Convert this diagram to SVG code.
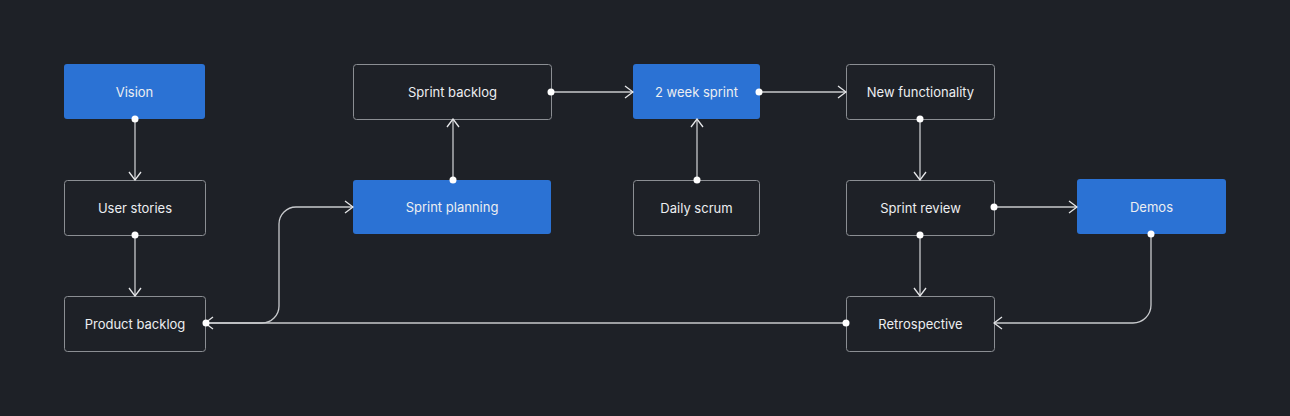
<svg xmlns="http://www.w3.org/2000/svg" width="1290" height="416" viewBox="0 0 1290 416">
<defs>
<style>
.box{fill:#1e2127;stroke:#8b8e93;stroke-width:1}
.blue{fill:#2b72d4;stroke:none}
.lbl{font-family:Inter,"Noto Sans","Liberation Sans",sans-serif;font-size:13px;fill:#eceef1;text-anchor:middle;dominant-baseline:central}
.edge{fill:none;stroke:#c8cacd;stroke-width:1.3}
.dot{fill:#ffffff}
</style>
<marker id="arr" viewBox="0 0 10 14" refX="9" refY="7" markerWidth="10" markerHeight="14" markerUnits="userSpaceOnUse" orient="auto">
<path d="M1,1 L9,7 L1,13" fill="none" stroke="#e6e7e9" stroke-width="1.3"/>
</marker>
</defs>
<rect width="1290" height="416" fill="#1e2127"/>
<g id="vision"><rect class="blue" x="64" y="64" width="141" height="55" rx="3"/><text class="lbl" x="134.5" y="92">Vision</text></g>
<g id="user-stories"><rect class="box" x="64.5" y="180.5" width="141" height="55" rx="3"/><text class="lbl" x="135" y="208">User stories</text></g>
<g id="product-backlog"><rect class="box" x="64.5" y="296.5" width="141" height="55" rx="3"/><text class="lbl" x="135" y="324">Product backlog</text></g>
<g id="sprint-backlog"><rect class="box" x="353.5" y="64.5" width="198" height="55" rx="3"/><text class="lbl" x="452.5" y="92">Sprint backlog</text></g>
<g id="sprint-planning"><rect class="blue" x="353" y="180" width="198" height="54" rx="3"/><text class="lbl" x="452" y="207">Sprint planning</text></g>
<g id="two-week-sprint"><rect class="blue" x="633" y="64" width="127" height="55" rx="3"/><text class="lbl" x="696.5" y="92">2 week sprint</text></g>
<g id="daily-scrum"><rect class="box" x="633.5" y="180.5" width="126" height="55" rx="3"/><text class="lbl" x="696.5" y="208">Daily scrum</text></g>
<g id="new-functionality"><rect class="box" x="846.5" y="64.5" width="148" height="55" rx="3"/><text class="lbl" x="920.5" y="92">New functionality</text></g>
<g id="sprint-review"><rect class="box" x="846.5" y="180.5" width="148" height="55" rx="3"/><text class="lbl" x="920.5" y="208">Sprint review</text></g>
<g id="retrospective"><rect class="box" x="846.5" y="296.5" width="148" height="55" rx="3"/><text class="lbl" x="920.5" y="324">Retrospective</text></g>
<g id="demos"><rect class="blue" x="1077" y="179" width="149" height="55" rx="3"/><text class="lbl" x="1151.5" y="207">Demos</text></g>
<g id="connectors">
<path class="edge" marker-end="url(#arr)" d="M135,119 V180"/>
<path class="edge" marker-end="url(#arr)" d="M135,235 V296"/>
<path class="edge" marker-end="url(#arr)" d="M846,323 H205"/>
<path class="edge" marker-end="url(#arr)" d="M205,323 H262 A17,17 0 0 0 279,306 V224 A17,17 0 0 1 296,207 H353"/>
<path class="edge" marker-end="url(#arr)" d="M453,180 V119"/>
<path class="edge" marker-end="url(#arr)" d="M551,92 H633"/>
<path class="edge" marker-end="url(#arr)" d="M697,180 V119"/>
<path class="edge" marker-end="url(#arr)" d="M759,92 H846"/>
<path class="edge" marker-end="url(#arr)" d="M920,119 V180"/>
<path class="edge" marker-end="url(#arr)" d="M994,207 H1077"/>
<path class="edge" marker-end="url(#arr)" d="M920,235 V296"/>
<path class="edge" marker-end="url(#arr)" d="M1151,234 V305 A18,18 0 0 1 1133,323 H994"/>
<circle class="dot" cx="135" cy="119" r="3.5"/>
<circle class="dot" cx="135" cy="235" r="3.5"/>
<circle class="dot" cx="846" cy="323" r="3.5"/>
<circle class="dot" cx="206" cy="323" r="3.5"/>
<circle class="dot" cx="453" cy="180" r="3.5"/>
<circle class="dot" cx="551" cy="92" r="3.5"/>
<circle class="dot" cx="697" cy="180" r="3.5"/>
<circle class="dot" cx="759" cy="92" r="3.5"/>
<circle class="dot" cx="920" cy="119" r="3.5"/>
<circle class="dot" cx="994" cy="207" r="3.5"/>
<circle class="dot" cx="920" cy="235" r="3.5"/>
<circle class="dot" cx="1151" cy="234" r="3.5"/>
</g>
</svg>
